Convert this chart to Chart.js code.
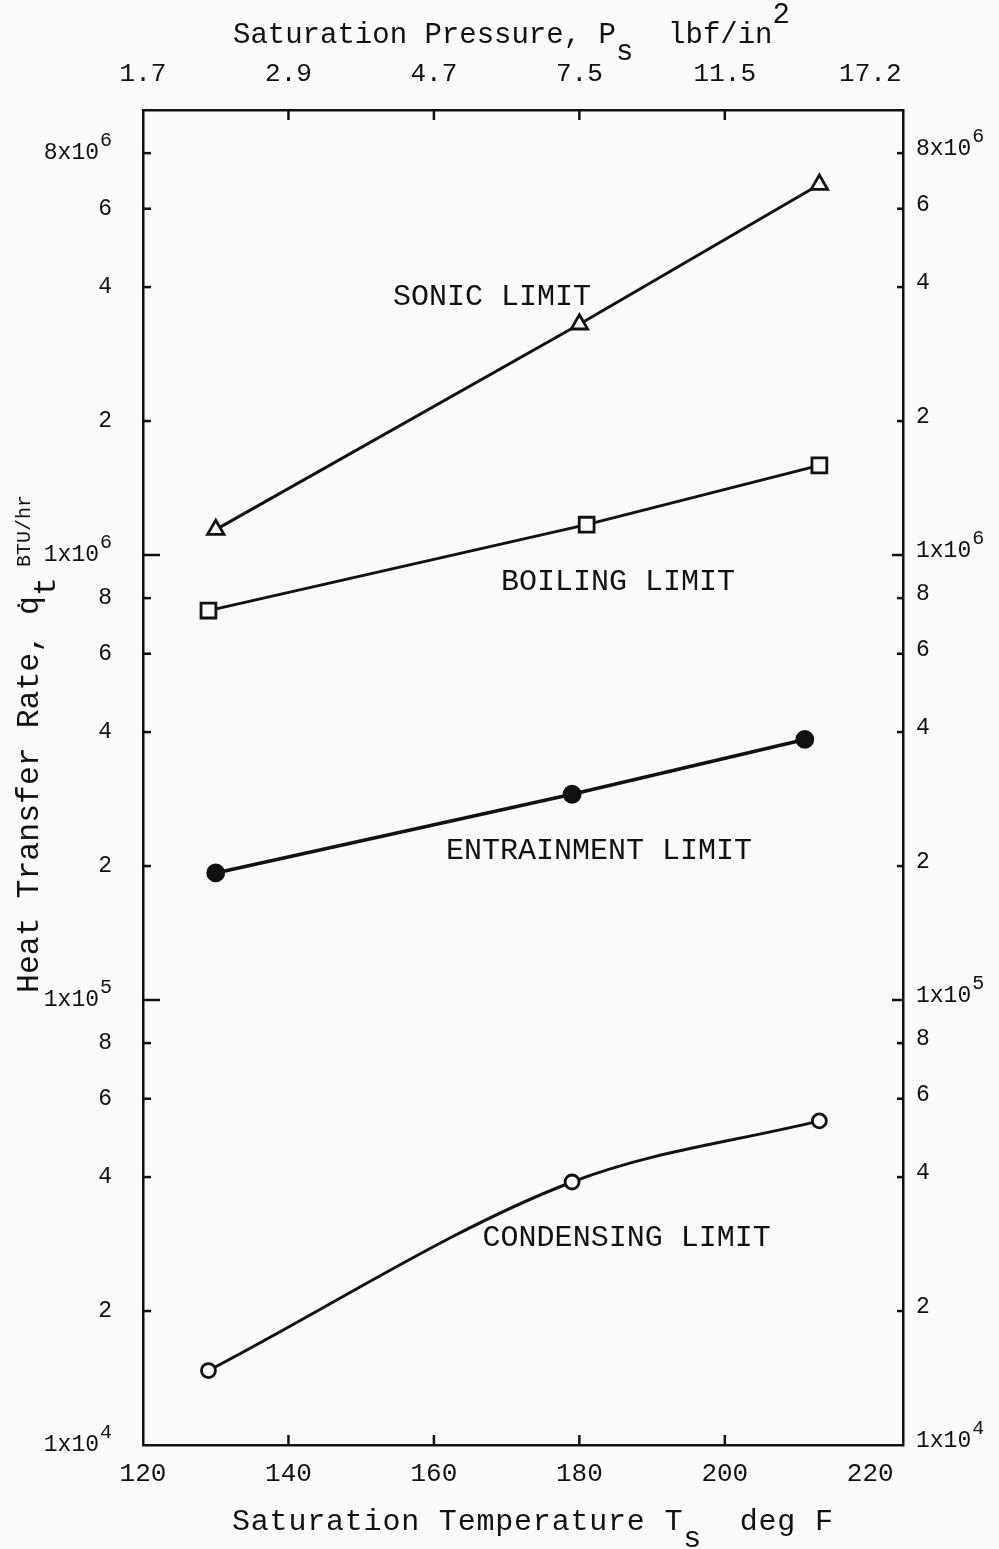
<!DOCTYPE html>
<html lang="en">
<head>
    <meta charset="UTF-8">
    <title>Heat Pipe Limits</title>
    <style>
        body {
            margin: 0;
            background-color: #fafafa;
            color: #111;
        }

        #wrap {
            position: relative;
            width: 999px;
            height: 1549px;
        }

        .axis-title {
            position: absolute;
            font-family: "Liberation Mono", "DejaVu Sans Mono", monospace;
            font-size: 29px;
            line-height: 1;
            white-space: pre;
            color: #111;
        }

        .lo { position: relative; top: 17px; }
        .hi { position: relative; top: -20px; }

        #xtitle {
            font-size: 30px;
            letter-spacing: 0.8px;
        }

        #ytitle {
            font-size: 31.5px;
            transform-origin: left top;
            transform: rotate(-90deg);
        }

        #ytitle .unit {
            font-size: 20px;
            position: relative;
            top: -8px;
            margin-left: 10px;
        }
    </style>
</head>
<body>
    <div id="wrap">
        <canvas id="limits-chart"></canvas>
        <div class="axis-title" style="left:233px; top:21px;">Saturation Pressure, P<span class="lo">s</span>  lbf/in<span class="hi">2</span></div>
        <div class="axis-title" id="xtitle" style="left:232px; top:1507px;">Saturation Temperature T<span class="lo">s</span>  deg F</div>
        <div class="axis-title" id="ytitle" style="left:14px; top:993px;">Heat Transfer Rate, q&#775;<span class="lo">t</span><span class="unit">BTU/hr</span></div>
    </div>

    <script src="https://cdn.jsdelivr.net/npm/chart.js"></script>
    <script>
        // axis ticks
        const tempTicks = [120, 140, 160, 180, 200, 220];
        const pressureTicks = ['1.7', '2.9', '4.7', '7.5', '11.5', '17.2'];
        const qTicks = [1e4, 2e4, 4e4, 6e4, 8e4, 1e5, 2e5, 4e5, 6e5, 8e5, 1e6, 2e6, 4e6, 6e6, 8e6];
        const qTickBase = ['1x10', '2', '4', '6', '8', '1x10', '2', '4', '6', '8', '1x10', '2', '4', '6', '8x10'];
        const qTickExp = ['4', '', '', '', '', '5', '', '', '', '', '6', '', '', '', '6'];

        // limits, temperature (deg F) vs heat transfer rate (BTU/hr)
        const sonicT = [130, 180, 213];
        const sonicQ = [1.14e6, 3.3e6, 6.8e6];
        const boilingT = [129, 181, 213];
        const boilingQ = [7.5e5, 1.17e6, 1.59e6];
        const entrainT = [130, 179, 211];
        const entrainQ = [1.93e5, 2.9e5, 3.85e5];
        const condT = [129, 179, 213];
        const condQ = [1.47e4, 3.9e4, 5.35e4];

        const curveLabels = [
            { text: 'SONIC LIMIT', x: 168, y: 3.8e6 },
            { text: 'BOILING LIMIT', x: 185.3, y: 8.7e5 },
            { text: 'ENTRAINMENT LIMIT', x: 182.7, y: 2.16e5 },
            { text: 'CONDENSING LIMIT', x: 186.5, y: 2.92e4 }
        ];

        const ink = '#111';
        const mono = '"Liberation Mono", "DejaVu Sans Mono", monospace';

        function toPoints(xs, ys) {
            return xs.map((x, i) => ({ x: x, y: ys[i] }));
        }

        function series(xs, ys, style, extra) {
            return Object.assign({
                data: toPoints(xs, ys),
                showLine: true,
                borderColor: ink,
                borderWidth: 3,
                pointStyle: style,
                pointBorderColor: ink,
                pointBorderWidth: 2.8,
                pointBackgroundColor: '#fafafa',
                pointRadius: 8,
                tension: 0
            }, extra || {});
        }

        // value label with a raised exponent, e.g. 1x10 + "6"
        function drawPowerLabel(ctx, base, exp, x, y, align) {
            ctx.font = '23px ' + mono;
            const wBase = ctx.measureText(base).width;
            ctx.font = '20px ' + mono;
            const wExp = exp ? ctx.measureText(exp).width + 1 : 0;
            const left = align === 'right' ? x - wBase - wExp : x;
            ctx.textAlign = 'left';
            ctx.font = '23px ' + mono;
            ctx.fillText(base, left, y);
            if (exp) {
                ctx.font = '20px ' + mono;
                ctx.fillText(exp, left + wBase + 1, y - 12);
            }
        }

        // short tick marks pointing into the plot, y labels and the curve names
        const innerTicks = {
            id: 'innerTicks',
            afterDraw(chart) {
                const ctx = chart.ctx;
                const area = chart.chartArea;
                ctx.save();
                ctx.strokeStyle = ink;
                ctx.fillStyle = ink;
                ctx.lineWidth = 2.5;
                ['x', 'x2'].forEach(id => {
                    const s = chart.scales[id];
                    s.ticks.forEach((t, i) => {
                        if (i === 0 || i === s.ticks.length - 1) return;
                        const px = s.getPixelForValue(t.value);
                        const y0 = id === 'x' ? area.bottom : area.top;
                        const dir = id === 'x' ? -1 : 1;
                        ctx.beginPath();
                        ctx.moveTo(px, y0);
                        ctx.lineTo(px, y0 + dir * 10);
                        ctx.stroke();
                    });
                });
                ['y', 'y2'].forEach(id => {
                    const s = chart.scales[id];
                    s.ticks.forEach((t, i) => {
                        const py = s.getPixelForValue(t.value);
                        ctx.textBaseline = 'middle';
                        if (id === 'y') {
                            drawPowerLabel(ctx, qTickBase[i], qTickExp[i], area.left - 31, py, 'right');
                        } else {
                            drawPowerLabel(ctx, qTickBase[i], qTickExp[i], area.right + 13, py - 4, 'left');
                        }
                        if (i === 0) return;
                        const decade = qTickBase[i] === '1x10';
                        const len = id === 'y' ? (decade ? 17 : 8) : (decade ? 11 : 6);
                        const x0 = id === 'y' ? area.left : area.right;
                        const dir = id === 'y' ? 1 : -1;
                        ctx.beginPath();
                        ctx.moveTo(x0, py);
                        ctx.lineTo(x0 + dir * len, py);
                        ctx.stroke();
                    });
                });

                ctx.font = '30px ' + mono;
                ctx.textAlign = 'center';
                ctx.textBaseline = 'middle';
                curveLabels.forEach(l => {
                    ctx.fillText(l.text, chart.scales.x.getPixelForValue(l.x), chart.scales.y.getPixelForValue(l.y));
                });
                ctx.restore();
            }
        };

        const tickFont = { family: mono, size: 26 };

        const ctx = document.getElementById('limits-chart').getContext('2d');
        const chart = new Chart(ctx, {
            type: 'scatter',
            data: {
                datasets: [
                    series(sonicT, sonicQ, 'triangle', { pointRadius: 9.5 }),
                    series(boilingT, boilingQ, 'rect', { pointRadius: 10.5 }),
                    series(entrainT, entrainQ, 'circle', { pointBackgroundColor: ink, borderWidth: 3.5 }),
                    series(condT, condQ, 'circle', { pointRadius: 7, cubicInterpolationMode: 'monotone' })
                ]
            },
            options: {
                responsive: true,
                maintainAspectRatio: false,
                animation: false,
                layout: { padding: 0 },
                plugins: {
                    legend: { display: false },
                    tooltip: { enabled: false }
                },
                scales: {
                    x: {
                        type: 'linear',
                        position: 'bottom',
                        min: 120,
                        max: 224.5,
                        afterBuildTicks: s => { s.ticks = tempTicks.map(v => ({ value: v })); },
                        afterFit: s => { s.height = 104; },
                        grid: { display: false, drawTicks: false },
                        border: { display: true, color: ink, width: 2.5 },
                        ticks: { padding: 14, color: ink, font: tickFont, maxRotation: 0, autoSkip: false }
                    },
                    x2: {
                        type: 'linear',
                        position: 'top',
                        min: 120,
                        max: 224.5,
                        afterBuildTicks: s => { s.ticks = tempTicks.map(v => ({ value: v })); },
                        afterFit: s => { s.height = 110; },
                        grid: { display: false, drawTicks: false },
                        border: { display: true, color: ink, width: 2.5 },
                        ticks: {
                            padding: 20, color: ink, font: tickFont, maxRotation: 0, autoSkip: false,
                            callback: (v, i) => pressureTicks[i]
                        }
                    },
                    y: {
                        type: 'logarithmic',
                        position: 'left',
                        min: 1e4,
                        max: 1e7,
                        afterBuildTicks: s => { s.ticks = qTicks.map(v => ({ value: v })); },
                        afterFit: s => { s.width = 143; },
                        grid: { display: false, drawTicks: false },
                        border: { display: true, color: ink, width: 2.5 },
                        ticks: { display: false }
                    },
                    y2: {
                        type: 'logarithmic',
                        position: 'right',
                        min: 1e4,
                        max: 1e7,
                        afterBuildTicks: s => { s.ticks = qTicks.map(v => ({ value: v })); },
                        afterFit: s => { s.width = 96; },
                        grid: { display: false, drawTicks: false },
                        border: { display: true, color: ink, width: 2.5 },
                        ticks: { display: false }
                    }
                }
            },
            plugins: [innerTicks]
        });
    </script>
</body>
</html>
